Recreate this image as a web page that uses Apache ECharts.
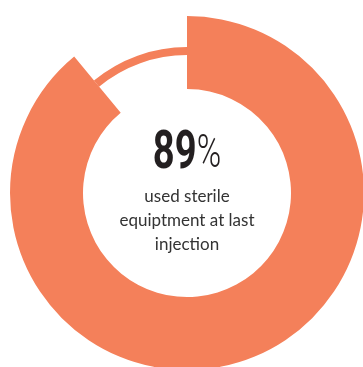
<!DOCTYPE html>
<html>
<head>
<meta charset="utf-8">
<style>
  html, body { margin: 0; padding: 0; background: #fff; }
  #chart { width: 363px; height: 367px; }
</style>
<script src="https://cdn.jsdelivr.net/npm/echarts@6/dist/echarts.min.js"></script>
</head>
<body>
<div id="chart"></div>
<script>
// data
const categories = ['Used sterile equipment', 'Did not']
const values = [89, 11]
const bigLabel = '89'
const captionLines = ['used sterile', 'equiptment at last', 'injection']

const orange = '#f4805a'
const center = [187, 193]

let myChart = echarts.init(document.getElementById('chart'))

let option = {
  animation: false,
  series: [
    {
      // thick ring - main share
      type: 'pie',
      center: center,
      radius: [104, 177],
      startAngle: 90,
      clockwise: true,
      silent: true,
      label: { show: false },
      labelLine: { show: false },
      data: [
        { name: categories[0], value: values[0], itemStyle: { color: orange } },
        { name: categories[1], value: values[1], itemStyle: { color: 'transparent' } }
      ]
    },
    {
      // thin ring - remainder
      type: 'pie',
      center: center,
      radius: [138, 146],
      startAngle: 90,
      clockwise: true,
      silent: true,
      label: { show: false },
      labelLine: { show: false },
      data: [
        { name: categories[0], value: values[0], itemStyle: { color: 'transparent' } },
        { name: categories[1], value: values[1], itemStyle: { color: orange } }
      ]
    }
  ],
  graphic: [
    {
      // condensed look by squeezing the text horizontally
      type: 'text',
      x: center[0],
      y: 155,
      scaleX: 0.72,
      style: {
        text: '{num|' + bigLabel + '}{pct|%}',
        align: 'center',
        verticalAlign: 'middle',
        rich: {
          num: {
            fontFamily: 'Roboto',
            fontWeight: 'bold',
            fontSize: 53,
            fill: '#231f20'
          },
          pct: {
            fontFamily: 'Roboto',
            fontWeight: 300,
            fontSize: 46,
            fill: '#231f20'
          }
        }
      }
    },
    {
      type: 'text',
      x: center[0],
      y: 221,
      style: {
        text: captionLines.join('\n'),
        align: 'center',
        verticalAlign: 'middle',
        fontFamily: 'Lato',
        fontSize: 17,
        lineHeight: 24,
        fill: '#333333'
      }
    }
  ]
}

myChart.setOption(option)
</script>
</body>
</html>
